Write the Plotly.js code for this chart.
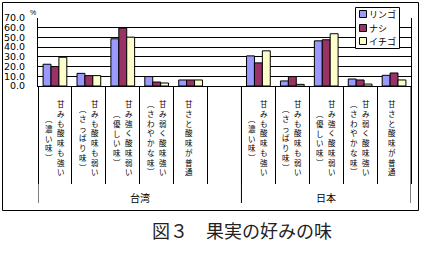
<!DOCTYPE html>
<html>
<head>
<meta charset="utf-8">
<script src="https://cdn.plot.ly/plotly-3.0.1.min.js"></script>
<style>
  html, body { margin: 0; padding: 0; background: #fff; }
  #chart { width: 421px; height: 253px; }
</style>
</head>
<body>
<div id="chart"></div>
<script>
// ---- data (percent) ----
const groups = ['台湾', '日本'];
const series = ['リンゴ', 'ナシ', 'イチゴ'];
const tasteMain = ['甘みも酸味も強い', '甘みも酸味も弱い', '甘み強く酸味弱い', '甘み弱く酸味強い', '甘さと酸味が普通'];
const tasteNote = ['（濃い味）', '（さっぱり味）', '（優しい味）', '（さわやかな味）', ''];

const appleTW = [22.4, 13.0, 48.6, 9.7, 6.2];
const pearTW = [20.0, 10.7, 59.6, 4.1, 6.2];
const berryTW = [29.6, 10.7, 50.3, 3.1, 6.2];
const appleJP = [31.0, 5.2, 46.5, 7.2, 11.0];
const pearJP = [23.8, 9.7, 47.6, 6.2, 13.4];
const berryJP = [36.2, 1.7, 53.8, 2.0, 6.2];

const colors = ['#9999ff', '#993366', '#ffffcc'];

// ---- layout helpers ----
const W = 421, H = 253;
const M = {l: 38, r: 10, t: 18, b: 167};
const plotW = W - M.l - M.r;
const plotH = H - M.t - M.b;
const px2x = (px) => (px - M.l) / plotW;
const py2y = (py) => (H - M.b - py) / plotH;

// categories: 5 for Taiwan, a blank slot, 5 for Japan
const gapKey = '　';
const catKeys = [];
groups.forEach((g, gi) => {
    tasteMain.forEach((t) => catKeys.push(g + ':' + t));
    if (gi === 0) catKeys.push(gapKey);
});

const withGap = (a, b) => a.concat([null], b);
const values = [withGap(appleTW, appleJP), withGap(pearTW, pearJP), withGap(berryTW, berryJP)];

const data = series.map((name, i) => ({
    type: 'bar',
    name: name,
    x: catKeys,
    y: values[i],
    marker: {color: colors[i], line: {color: '#000', width: 1}},
    hoverinfo: 'x+y'
}));

// vertical (tategaki) category labels: one annotation per column,
// one character per line, columns centred on the same middle line
const labelFont = {family: 'Noto Sans CJK JP', size: 7.5, color: '#000'};
const MID = 137.5;

function column(cat, text, xshift) {
    const chars = Array.from(text.replace(/（/g, '︵').replace(/）/g, '︶'));
    return {
        xref: 'x', yref: 'paper',
        x: cat, y: py2y(MID),
        text: chars.join('<br>'), showarrow: false,
        xanchor: 'center', yanchor: 'middle',
        borderpad: 0, xshift: xshift,
        font: labelFont
    };
}

const annotations = [];
groups.forEach((g) => {
    tasteMain.forEach((t, i) => {
        const key = g + ':' + t;
        if (tasteNote[i]) {
            annotations.push(column(key, t, 6), column(key, tasteNote[i], -6));
        } else {
            annotations.push(column(key, t, -2));
        }
    });
});

// group labels
annotations.push(
    {xref: 'x', yref: 'paper', x: 2.5, y: py2y(197), text: groups[0], showarrow: false,
     xanchor: 'center', yanchor: 'middle', font: {family: 'Noto Sans CJK JP', size: 10, color: '#000'}},
    {xref: 'x', yref: 'paper', x: 8, y: py2y(197), text: groups[1], showarrow: false,
     xanchor: 'center', yanchor: 'middle', font: {family: 'Noto Sans CJK JP', size: 10, color: '#000'}}
);

// unit mark next to the top tick
annotations.push({
    xref: 'paper', yref: 'paper', x: 0, y: 1, xanchor: 'right', yanchor: 'bottom',
    xshift: -1, yshift: 1, text: '%', showarrow: false, borderpad: 0,
    font: {family: 'Liberation Sans', size: 7, color: '#000'}
});

// compact legend box (swatches + names), top right over the plot
const legendBox = {x0: 355, x1: 399, y0: 7, y1: 48};
const legendRows = [14, 28, 41];
const shapes = [{
    type: 'rect', xref: 'paper', yref: 'paper',
    x0: px2x(legendBox.x0 + 0.5), x1: px2x(legendBox.x1 + 0.5),
    y0: py2y(legendBox.y0 + 0.5), y1: py2y(legendBox.y1 + 0.5),
    line: {color: '#000', width: 1}, fillcolor: '#fff'
}];
series.forEach((name, i) => {
    const cy = legendRows[i];
    shapes.push({
        type: 'rect', xref: 'paper', yref: 'paper',
        x0: px2x(359.5), x1: px2x(366.5), y0: py2y(cy - 3.5), y1: py2y(cy + 3.5),
        line: {color: '#000', width: 1}, fillcolor: colors[i]
    });
    annotations.push({
        xref: 'paper', yref: 'paper', x: px2x(368), y: py2y(cy),
        xanchor: 'left', yanchor: 'middle', text: name, showarrow: false,
        borderpad: 0,
        font: {family: 'Noto Sans CJK JP', size: 9, color: '#000'}
    });
});

// group separators and the outer chart frame
[-0.5, 5.5, 10.5].forEach((x) => shapes.push({
    type: 'line', xref: 'x', yref: 'paper',
    x0: x, x1: x, y0: 0, y1: py2y(203),
    line: {color: '#000', width: 1}
}));
shapes.push({
    type: 'rect', xref: 'paper', yref: 'paper', layer: 'below',
    x0: px2x(2.5), x1: px2x(418.5), y0: py2y(2.5), y1: py2y(210.5),
    line: {color: '#000', width: 1}, fillcolor: 'rgba(0,0,0,0)'
});

const layout = {
    width: W, height: H,
    margin: M,
    paper_bgcolor: '#fff', plot_bgcolor: '#fff',
    barmode: 'group', bargap: 0.3, bargroupgap: 0,
    showlegend: false,
    title: {
        text: '図３　果実の好みの味',
        xref: 'container', yref: 'container',
        x: 242 / W, y: 1 - 232 / H, xanchor: 'center', yanchor: 'middle',
        font: {family: 'Noto Sans CJK JP', size: 18, color: '#222'}
    },
    xaxis: {
        type: 'category',
        categoryorder: 'array', categoryarray: catKeys,
        range: [-0.5, 10.5],
        showticklabels: false, showgrid: false,
        showline: true, linecolor: '#000', linewidth: 1,
        ticks: 'outside', tickson: 'boundaries', ticklen: 97, tickcolor: '#000', tickwidth: 1
    },
    yaxis: {
        range: [0, 70], dtick: 10, tickformat: '.1f',
        showgrid: true, gridcolor: '#000', gridwidth: 1,
        showline: true, mirror: true, linecolor: '#000', linewidth: 1,
        zeroline: false, ticks: '', ticklabelstandoff: 10,
        tickfont: {family: 'DejaVu Sans', size: 9.5, color: '#000'}
    },
    annotations: annotations,
    shapes: shapes
};

Plotly.newPlot('chart', data, layout, {staticPlot: true, displayModeBar: false});
</script>
</body>
</html>
